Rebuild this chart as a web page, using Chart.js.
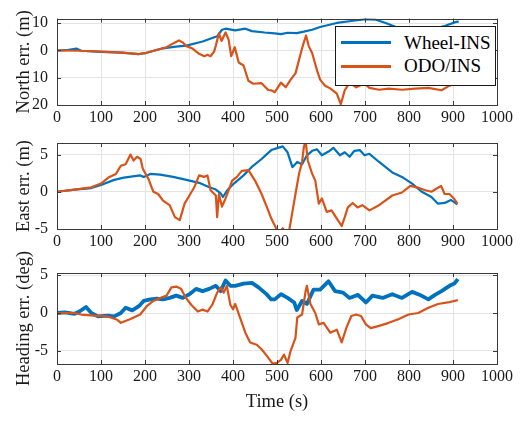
<!DOCTYPE html>
<html>
<head>
<meta charset="utf-8">
<script src="https://cdn.jsdelivr.net/npm/chart.js@4.4.0/dist/chart.umd.min.js"></script>
<style>
html, body { margin: 0; padding: 0; background: #fff; }
#wrap { position: relative; width: 530px; height: 421px; overflow: hidden; }
canvas { position: absolute; left: 0; }
#legend {
    position: absolute; left: 335px; top: 26px; width: 159px; height: 54px;
    border: 1px solid #1a1a1a; background: #fff; padding-top: 4px;
    font-family: 'Liberation Serif', 'Times New Roman', serif; font-size: 19px; color: #000;
}
.leg-row { display: flex; align-items: center; height: 23.5px; }
.leg-line { width: 50px; height: 3px; margin-left: 5px; margin-right: 13px; }
</style>
</head>
<body>
<div id="wrap">
    <canvas id="northChart" width="530" height="130" style="top:0px"></canvas>
    <canvas id="eastChart" width="530" height="140" style="top:120px"></canvas>
    <canvas id="headChart" width="530" height="186" style="top:235px"></canvas>
    <div id="legend"></div>
</div>
<script>
const seriesNames = ['Wheel-INS', 'ODO/INS'];
const timeTicks = [0, 100, 200, 300, 400, 500, 600, 700, 800, 900, 1000];

// North error (m)
const northTicks = [-20, -10, 0, 10];
const northTickLabels = ['20', '10', '0', '10'];
const northWheelT = [0, 20, 44, 55, 100, 145, 186, 200, 241, 270, 294, 331, 364, 375, 383, 405, 428, 443, 472, 495, 509, 524, 545, 561, 580, 598, 636, 673, 702, 725, 747, 770, 792, 814, 836, 859, 881, 907, 913];
const northWheel  = [0, 0.1, 0.7, -0.1, -0.5, -0.8, -1.3, -1, 0.8, 1.4, 1.8, 3.3, 5.2, 7.6, 8, 7.4, 8, 7.1, 6.6, 6.3, 6, 6.5, 6.4, 6.9, 7.6, 8.6, 10.1, 10.9, 11.5, 11.3, 10.1, 8.6, 7.7, 7.8, 7.5, 8.1, 9, 10.5, 10.6];
const northOdoT = [0, 50, 100, 150, 186, 200, 219, 249, 264, 277, 286, 294, 308, 323, 335, 342, 349, 357, 361, 368, 374, 383, 390, 396, 404, 413, 424, 435, 446, 465, 480, 487, 495, 509, 520, 531, 542, 554, 561, 566, 572, 580, 591, 598, 609, 621, 636, 645, 654, 665, 680, 699, 710, 732, 754, 784, 814, 844, 874, 892, 907, 912];
const northOdo  = [0, -0.1, -0.4, -0.8, -1.3, -1.0, -0.1, 1.2, 2.6, 3.7, 2.9, 1.6, 0.7, -1.2, -2.1, -1.6, -2.1, -0.4, 1.8, 6.3, 3.5, 6.6, 4, -2.1, 1.2, -4.4, -5.5, -11.1, -12.2, -12, -14.5, -14.6, -15.3, -11.8, -13.5, -10.7, -8.4, -1, 3, 5.5, 1.7, -1, -7.3, -10.7, -12.9, -13.9, -15.8, -19.7, -14.6, -11.8, -13.5, -12.1, -13.7, -14.4, -14, -14.4, -14, -13.7, -14.6, -12.9, -11.8, -11.5];

// East error (m)
const eastTicks = [-5, 0, 5];
const eastTickLabels = ['-5', '0', '5'];
const eastWheelT = [0, 40, 78, 100, 130, 152, 189, 197, 212, 234, 264, 294, 323, 346, 361, 372, 377, 387, 402, 424, 442, 465, 487, 513, 524, 535, 546, 557, 568, 580, 591, 602, 617, 628, 643, 654, 665, 676, 688, 699, 710, 732, 762, 784, 807, 829, 851, 866, 881, 895, 910];
const eastWheel  = [0, 0.3, 0.5, 0.9, 1.6, 1.9, 2.2, 2.0, 2.4, 2.3, 2.0, 1.6, 1.2, 0.6, 0.3, -0.2, -0.7, 0.2, 1.1, 2.2, 3.3, 4.4, 5.6, 6.1, 5.3, 3.3, 4.0, 3.7, 4.9, 5.5, 5.7, 4.9, 5.4, 5.9, 4.9, 5.3, 4.7, 5.5, 5.6, 4.9, 5.1, 4.0, 2.6, 2.0, 1.1, 0, -0.7, -1.6, -1.5, -1.1, -1.7];
const eastOdoT = [0, 40, 78, 100, 119, 134, 145, 156, 167, 174, 182, 190, 195, 208, 219, 230, 241, 256, 268, 279, 282, 290, 301, 312, 323, 334, 342, 349, 361, 364, 368, 375, 383, 390, 398, 409, 420, 435, 450, 465, 480, 487, 498, 505, 513, 520, 528, 535, 542, 550, 557, 561, 565, 570, 580, 587, 595, 602, 613, 624, 636, 647, 654, 661, 672, 683, 694, 710, 732, 762, 784, 803, 818, 837, 851, 862, 873, 881, 892, 902, 910];
const eastOdo  = [0, 0.3, 0.6, 1.1, 2.0, 2.4, 3.5, 3.7, 5.0, 4.2, 4.7, 4.4, 3.1, 1.7, 0, -0.3, -1.2, -1.8, -3.4, -3.8, -3.2, -1.6, -0.5, 0.6, 2.2, 2.0, 2.2, 0.2, -0.5, -3.4, -0.3, -2.0, -0.9, 0.2, 1.5, 2.0, 2.8, 2.9, 1.5, -0.3, -2.5, -3.6, -4.9, -5.6, -4.9, -5.6, -5.1, -2.7, -0.3, 2.4, 4.0, 6.0, 6.8, 4.2, 2.4, 1.5, -1.6, -0.9, -2.7, -2.5, -3.6, -4.6, -3.4, -2.1, -1.5, -2.1, -1.8, -2.5, -1.8, -0.5, -0.1, 0.8, 0.6, 0.2, 0, 0.4, 0.8, -0.3, -0.3, -0.9, -1.6];

// Heading error (deg)
const headTicks = [-5, 0, 5];
const headTickLabels = ['-5', '0', '5'];
const headWheelT = [0, 18, 40, 51, 66, 78, 93, 115, 130, 145, 156, 171, 186, 197, 212, 227, 241, 256, 271, 286, 301, 316, 331, 346, 361, 372, 383, 394, 405, 424, 443, 458, 476, 487, 495, 509, 524, 539, 545, 557, 568, 583, 598, 617, 632, 650, 665, 684, 702, 717, 740, 762, 784, 807, 825, 844, 859, 874, 892, 903, 911];
const headWheel  = [0, 0.1, -0.1, 0.2, 0.8, 0, -0.45, -0.35, -0.45, 0, 0.7, 0.35, 0.9, 1.6, 1.8, 1.9, 1.8, 2.0, 2.3, 2.0, 2.5, 3.2, 2.9, 3.2, 3.6, 2.9, 4.3, 3.6, 3.6, 3.9, 4.0, 3.4, 2.5, 1.8, 1.8, 2.5, 2.0, 1.4, 0.4, 1.6, 1.2, 3.1, 3.1, 4.2, 2.9, 2.7, 2.0, 2.4, 1.4, 2.3, 2.0, 2.5, 2.0, 2.8, 2.4, 1.8, 2.4, 2.9, 3.6, 3.9, 4.5];
const headOdoT = [0, 40, 55, 85, 115, 137, 145, 167, 189, 204, 219, 234, 249, 260, 271, 282, 293, 305, 320, 331, 342, 353, 364, 372, 379, 386, 394, 400, 405, 416, 428, 439, 454, 465, 480, 490, 500, 509, 516, 524, 531, 542, 546, 557, 565, 568, 576, 587, 595, 606, 621, 636, 647, 658, 669, 680, 691, 702, 713, 732, 754, 777, 799, 821, 844, 866, 888, 911];
const headOdo  = [0, 0, -0.2, -0.35, -0.45, -0.9, -1.3, -0.8, -0.2, 0.9, 1.6, 2.0, 2.3, 3.4, 3.5, 3.2, 2.0, 1.1, 0.2, 0.45, 0.2, 1.1, 2.7, 3.4, 2.7, 3.6, 1.1, 0.5, 1.2, -0.6, -2.6, -3.9, -4.2, -4.8, -5.9, -6.7, -6.6, -6.2, -5.5, -6.6, -5.0, -3.3, -0.6, -0.2, 2.9, 3.6, 1.2, 0, -1.5, -1.3, -2.6, -2.2, -3.9, -1.9, -0.4, -0.2, -0.4, -1.5, -2.0, -1.7, -1.3, -0.8, -0.2, 0, 0.7, 1.2, 1.4, 1.7];

const BLUE = '#0072BD';
const ORANGE = '#D95319';
const FONT = "'Liberation Serif', 'Times New Roman', serif";
const INK = '#1a1a1a';

Chart.defaults.font.family = FONT;
Chart.defaults.font.size = 16;
Chart.defaults.color = INK;

// box round the plot area with inward tick marks, like the original figure
const framePlugin = {
    id: 'frame',
    afterDatasetsDraw(chart) {
        const { ctx, chartArea: a, scales } = chart;
        ctx.save();
        ctx.strokeStyle = '#3a3a3a';
        ctx.lineWidth = 1;
        ctx.beginPath();
        scales.x.ticks.forEach(t => {
            const px = Math.round(scales.x.getPixelForValue(t.value)) + 0.5;
            ctx.moveTo(px, a.bottom); ctx.lineTo(px, a.bottom - 4);
            ctx.moveTo(px, a.top); ctx.lineTo(px, a.top + 4);
        });
        scales.y.ticks.forEach(t => {
            const py = Math.round(scales.y.getPixelForValue(t.value)) + 0.5;
            ctx.moveTo(a.left, py); ctx.lineTo(a.left + 4, py);
            ctx.moveTo(a.right, py); ctx.lineTo(a.right - 4, py);
        });
        ctx.stroke();
        ctx.strokeRect(Math.round(a.left) + 0.5, Math.round(a.top) + 0.5, Math.round(a.width), Math.round(a.height));
        ctx.restore();
    }
};

const toPts = (ts, vs) => ts.map((t, i) => ({ x: t, y: vs[i] }));

function makeChart(id, cfg) {
    const ctx = document.getElementById(id).getContext('2d');
    return new Chart(ctx, {
        type: 'line',
        data: {
            datasets: [
                { label: seriesNames[0], data: toPts(cfg.wheelT, cfg.wheel), borderColor: BLUE, borderWidth: cfg.wheelWidth || 2.2, order: 2 },
                { label: seriesNames[1], data: toPts(cfg.odoT, cfg.odo), borderColor: ORANGE, borderWidth: 2.2, order: 1 }
            ]
        },
        options: {
            responsive: false,
            animation: false,
            events: [],
            layout: { padding: { top: cfg.padTop, right: 33, left: 0, bottom: 0 } },
            elements: { point: { radius: 0 }, line: { tension: 0, borderJoinStyle: 'round' } },
            plugins: { legend: { display: false }, tooltip: { enabled: false } },
            scales: {
                x: {
                    type: 'linear', min: 0, max: 1000,
                    afterBuildTicks: s => { s.ticks = timeTicks.map(v => ({ value: v })); },
                    afterFit: s => { s.height = cfg.xHeight; },
                    grid: { color: '#e4e4e4', drawTicks: false },
                    border: { display: false },
                    ticks: { color: INK, padding: 3, font: { family: FONT, size: 16 }, maxRotation: 0, callback: v => String(v) },
                    title: { display: !!cfg.xTitle, text: cfg.xTitle || '', color: INK, font: { family: FONT, size: 18.5 }, padding: { top: 0, bottom: 8 } }
                },
                y: {
                    type: 'linear', min: cfg.yMin, max: cfg.yMax,
                    afterBuildTicks: s => { s.ticks = cfg.ticks.map(v => ({ value: v })); },
                    afterFit: s => { s.width = 57; },
                    grid: { color: '#e4e4e4', drawTicks: false },
                    border: { display: false },
                    ticks: {
                        color: INK, padding: 9, font: { family: FONT, size: 16 },
                        callback: v => cfg.tickLabels[cfg.ticks.indexOf(v)]
                    },
                    title: { display: true, text: cfg.yTitle, color: INK, font: { family: FONT, size: 18.5 }, padding: { top: 13, bottom: 0 } }
                }
            }
        },
        plugins: [framePlugin]
    });
}

const northChart = makeChart('northChart', {
    wheelT: northWheelT, wheel: northWheel, odoT: northOdoT, odo: northOdo,
    ticks: northTicks, tickLabels: northTickLabels, yMin: -20, yMax: 11.7,
    yTitle: 'North err. (m)', padTop: 13, xHeight: 25
});
makeChart('eastChart', {
    wheelT: eastWheelT, wheel: eastWheel, odoT: eastOdoT, odo: eastOdo,
    ticks: eastTicks, tickLabels: eastTickLabels, yMin: -5, yMax: 6.55,
    yTitle: 'East err. (m)', padTop: 23, xHeight: 31
});
makeChart('headChart', {
    wheelT: headWheelT, wheel: headWheel, odoT: headOdoT, odo: headOdo, wheelWidth: 3.8,
    ticks: headTicks, tickLabels: headTickLabels, yMin: -6.75, yMax: 5.3,
    yTitle: 'Heading err. (deg)', xTitle: 'Time (s)', padTop: 38, xHeight: 57
});

// legend box sits inside the top panel, as in the original
const legend = document.getElementById('legend');
northChart.data.datasets.forEach(ds => {
    const row = document.createElement('div');
    row.className = 'leg-row';
    row.innerHTML = `<span class="leg-line" style="background:${ds.borderColor}"></span><span>${ds.label}</span>`;
    legend.appendChild(row);
});
</script>
</body>
</html>
